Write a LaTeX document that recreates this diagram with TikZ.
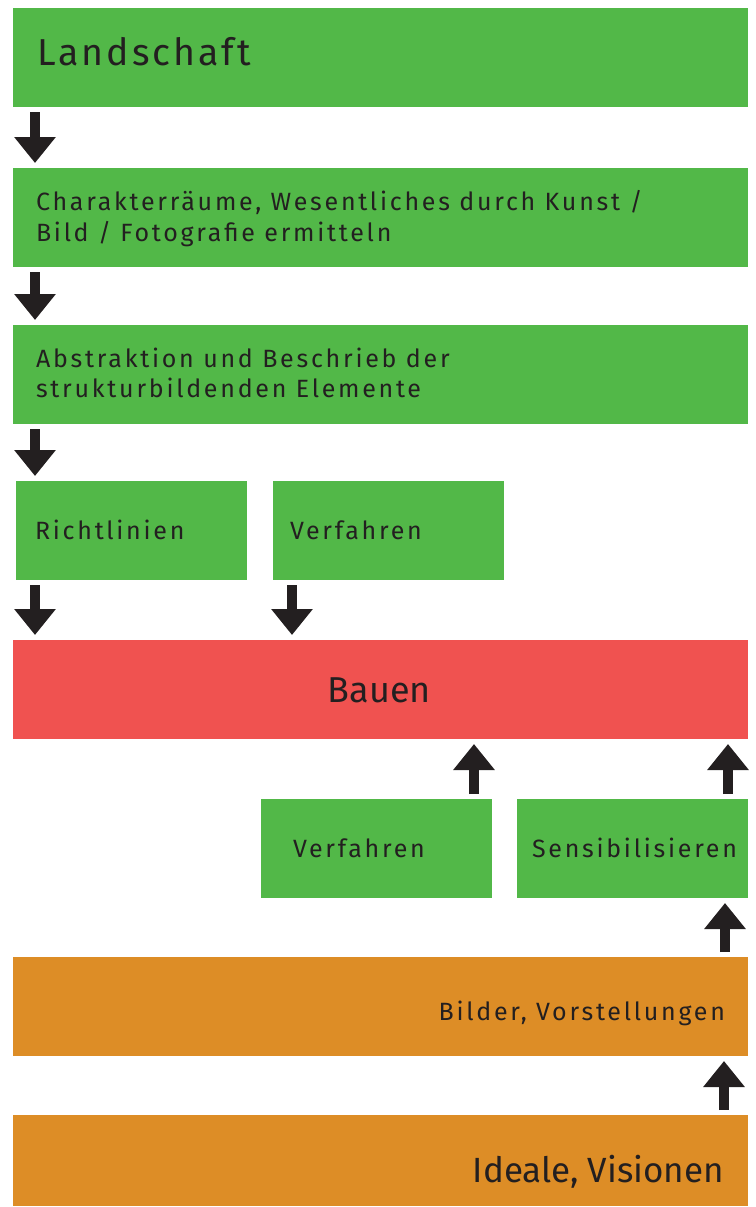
\documentclass[tikz,border=0pt]{standalone}
\usepackage{fontspec}
\setmainfont{Fira Sans}
\newfontfamily\spaced[LetterSpace=11]{Fira Sans}
\newfontfamily\spacedbig[LetterSpace=8]{Fira Sans}
\newfontfamily\plain{Fira Sans}
\usetikzlibrary{arrows.meta}
\definecolor{boxgreen}{HTML}{52B848}
\definecolor{boxred}{HTML}{F05250}
\definecolor{boxorange}{HTML}{DD8D26}
\definecolor{ink}{HTML}{231F20}
\tikzset{
  box/.style={rectangle, inner sep=0pt, outer sep=0pt, anchor=north west, minimum height=99pt},
  gbox/.style={box, fill=boxgreen},
  rbox/.style={box, fill=boxred},
  obox/.style={box, fill=boxorange},
  wide/.style={minimum width=735pt},
  narrow/.style={minimum width=231pt},
  txt/.style={inner sep=0pt, outer sep=0pt, text=ink, align=left},
  small/.style={txt, font=\spaced\fontsize{25}{31}\selectfont},
  big/.style={txt, font=\spacedbig\fontsize{37.5}{40}\selectfont},
  din/.style={txt, font=\plain\fontsize{36}{40}\selectfont},
  dinb/.style={txt, font=\plain\fontsize{35}{40}\selectfont},
  arr/.style={draw=ink, line width=10pt, -{Triangle[width=40pt,length=26pt]}, shorten <=5pt, shorten >=5pt}
}
\begin{document}
\begin{tikzpicture}[x=1pt,y=-1pt]
\useasboundingbox (0,0) rectangle (755,1207);
% boxes
\node[gbox, wide] (b1) at (13,8) {};
\node[gbox, wide] (b2) at (13,168) {};
\node[gbox, wide] (b3) at (13,325) {};
\node[gbox, narrow] (b4) at (16,481) {};
\node[gbox, narrow] (b5) at (273,481) {};
\node[rbox, wide] (b6) at (13,640) {};
\node[gbox, narrow] (b7) at (261,799) {};
\node[gbox, narrow] (b8) at (517,799) {};
\node[obox, wide] (b9) at (13,957) {};
\node[obox, wide, minimum height=91pt] (b10) at (13,1115) {};
% texts
\node[big, anchor=base west] (t1) at (37,66) {Landschaft};
\node[small, anchor=base west] (t2a) at (36,210) {Charakterräume, Wesentliches durch Kunst /};
\node[small, anchor=base west] (t2b) at (36,241) {Bild / Fotografie ermitteln};
\node[small, anchor=base west] (t3a) at (36,367) {Abstraktion und Beschrieb der};
\node[small, anchor=base west] (t3b) at (36,397) {strukturbildenden Elemente};
\node[small, anchor=base west] (t4) at (35,539) {Richtlinien};
\node[small, anchor=base west] (t5) at (290,539) {Verfahren};
\node[din, anchor=base] (t6) at (379.5,702) {Bauen};
\node[small, anchor=base west] (t7) at (293,857) {Verfahren};
\node[small, anchor=base west] (t8) at (532,857) {Sensibilisieren};
\node[small, anchor=base east] (t9) at (725,1020) {Bilder, Vorstellungen};
\node[dinb, anchor=base east] (t10) at (724,1182) {Ideale, Visionen};
% arrows
\draw[arr] ([xshift=22pt]b1.south west) -- ([xshift=22pt]b2.north west);
\draw[arr] ([xshift=22pt]b2.south west) -- ([xshift=22pt]b3.north west);
\draw[arr] ([xshift=22pt]b3.south west) -- ([xshift=22pt]b3.south west |- b4.north);
\draw[arr] ([xshift=19pt]b4.south west) -- ([xshift=19pt]b4.south west |- b6.north);
\draw[arr] ([xshift=19pt]b5.south west) -- ([xshift=19pt]b5.south west |- b6.north);
\draw[arr] ([xshift=-18pt]b7.north east) -- ([xshift=-18pt]b7.north east |- b6.south);
\draw[arr] ([xshift=-20pt]b8.north east) -- ([xshift=-20pt]b8.north east |- b6.south);
\draw[arr] ([xshift=-23pt]b9.north east) -- ([xshift=-23pt]b8.south east);
\draw[arr] ([xshift=-24pt]b10.north east) -- ([xshift=-24pt]b9.south east);
\end{tikzpicture}
\end{document}
